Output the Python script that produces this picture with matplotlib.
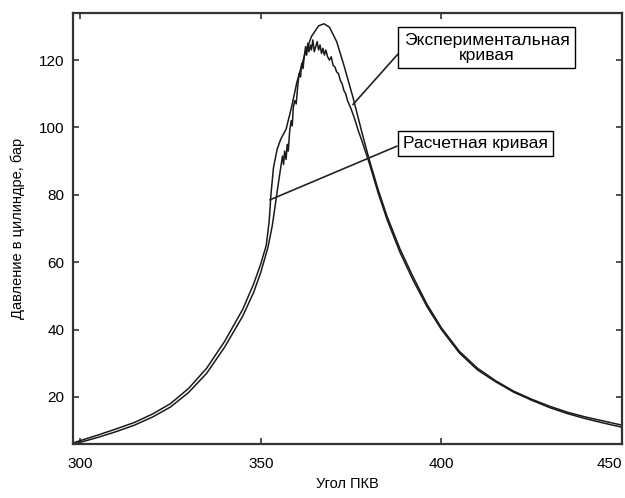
import matplotlib.pyplot as plt

# calculated (smooth) curve
calc_x = [298, 300, 305, 310, 315, 320, 325, 330, 335, 340, 345, 348, 350, 351.5,
          352.3, 352.8, 353.5, 354.5, 355.5, 357, 358.5, 360, 362, 364, 366, 367.5,
          369, 371, 373, 375.5, 378, 380, 382.5, 385, 388.5, 392, 396, 400, 405,
          410, 415, 420, 425, 430, 435, 440, 445, 450]
calc_y = [6.3, 7.0, 8.7, 10.5, 12.4, 14.9, 18.0, 22.5, 28.5, 36.5, 46.0, 53.5, 59.5, 65,
          72, 80, 88, 93.5, 96.5, 99.5, 106, 113.5, 121, 127, 130.2, 130.8,
          129.8, 125.5, 118.5, 109, 98.5, 90.5, 81.5, 73.5, 64, 56, 47.5, 40.5, 33.5,
          28.5, 24.8, 21.7, 19.3, 17.2, 15.4, 14.0, 12.8, 11.6]

# experimental (noisy) curve
exp_x = [298, 300, 305, 310, 315, 320, 325, 330, 335, 340, 345, 348, 350, 352,
         353.2, 354, 354.8, 355.5, 356, 356.3, 356.6, 357, 357.3, 357.6, 358, 358.4,
         358.7, 359, 359.4, 359.8, 360.2, 360.6, 361, 361.3, 361.7, 362, 362.4,
         362.7, 363, 363.3, 363.7, 364, 364.4, 364.8, 365.2, 365.6, 366, 366.4,
         366.8, 367.2, 367.6, 368, 368.5, 369, 369.5, 370, 370.5, 371, 371.5, 372,
         372.5, 373, 373.5, 374, 375, 376, 377, 378, 380, 382.5, 385, 388.5, 392,
         396, 400, 405, 410, 415, 420, 425, 430, 435, 440, 445, 450]
exp_y = [6.0, 6.5, 8.0, 9.7, 11.6, 14.0, 17.0, 21.3, 27.0, 34.8, 44.0, 51.0, 57.0, 64.5,
         71, 77, 83, 88, 91.5, 89, 93, 90.5, 95, 93, 99, 102,
         100.5, 106, 108, 107, 112, 116, 115, 119, 117.5, 121, 124,
         121.5, 125, 122.5, 124.5, 123, 126, 122.5, 124, 125.5, 123, 124.5,
         122, 123.5, 121.5, 123, 121, 120, 121, 118.5, 118, 116.5, 116, 114,
         113, 111, 110, 108, 105.5, 102.5, 99, 96, 89.5, 80.5, 72.5, 63, 55,
         46.8, 40, 33, 28, 24.5, 21.4, 19, 16.8, 15, 13.5, 12.2, 11]

x_ticks = [300, 350, 400, 450]
y_ticks = [20, 40, 60, 80, 100, 120]

plt.rcParams['font.family'] = ['Liberation Sans', 'DejaVu Sans']

fig = plt.figure(figsize=(6.25, 4.98), dpi=100)
ax = fig.add_axes([0.1168, 0.1084, 0.8784, 0.8655])

ax.plot(calc_x, calc_y, color='#1a1a1a', lw=1.1)
ax.plot(exp_x, exp_y, color='#1a1a1a', lw=1.1)

ax.set_xlim(298, 450)
ax.set_ylim(6, 134)
ax.set_xticks(x_ticks)
ax.set_yticks(y_ticks)
ax.tick_params(direction='in', top=True, right=True, length=4, width=1.2,
               labelsize=11, color='#333333')
ax.tick_params(axis='x', pad=9)
ax.tick_params(axis='y', pad=6)
ax.get_xticklabels()[-1].set_ha('right')
for s in ax.spines.values():
    s.set_linewidth(1.6)
    s.set_color('#333333')

ax.set_xlabel('Угол ПКВ', fontsize=10.5, labelpad=5)
ax.set_ylabel('Давление в цилиндре, бар', fontsize=10.5, labelpad=10)

box = dict(boxstyle='square,pad=0.3', fc='white', ec='black', lw=1)
line = dict(arrowstyle='-', color='#222222', lw=1.2, shrinkA=0, shrinkB=0, relpos=(0, 0.5))
ax.annotate('Экспериментальная\nкривая', xy=(375.5, 106.8), xytext=(412.5, 123.7),
            ha='center', va='center', fontsize=12.6,
            bbox=box, arrowprops=line, linespacing=1.0)
ax.annotate('Расчетная кривая', xy=(352.5, 78.5), xytext=(409.4, 95.2),
            ha='center', va='center', fontsize=12.6,
            bbox=box, arrowprops=line)

fig.savefig('out.png', dpi=100)
